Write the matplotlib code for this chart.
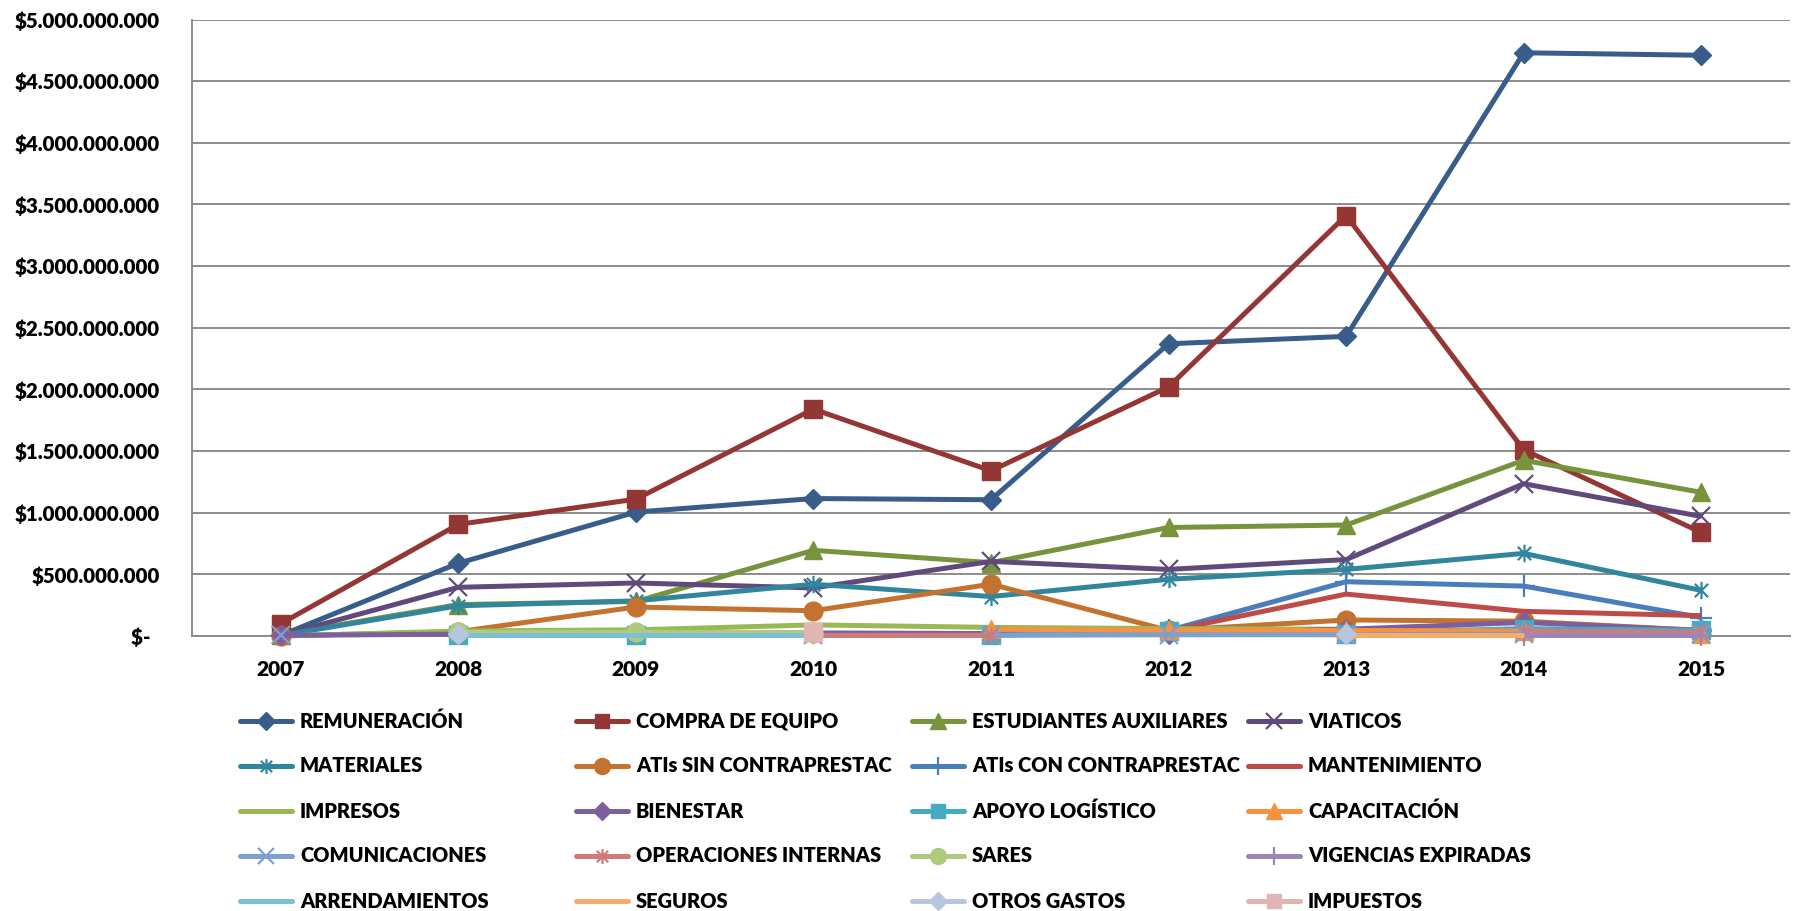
import numpy as np
import matplotlib
matplotlib.use('Agg')
import matplotlib.pyplot as plt
from matplotlib.lines import Line2D
from matplotlib.path import Path
from matplotlib.ticker import FuncFormatter, MultipleLocator

plt.rcParams['font.family'] = ['Lato', 'DejaVu Sans']
plt.rcParams['font.weight'] = 'heavy'

nan = np.nan
years = ['2007', '2008', '2009', '2010', '2011', '2012', '2013', '2014', '2015']

# valores en millones de pesos
remuneracion = [5, 590, 1005, 1115, 1105, 2370, 2430, 4730, 4710]
compra_equipo = [100, 905, 1110, 1840, 1340, 2020, 3410, 1510, 840]
estudiantes = [10, 255, 280, 695, 595, 880, 900, 1425, 1165]
viaticos = [5, 395, 430, 390, 605, 540, 620, 1235, 970]
materiales = [5, 245, 285, 420, 320, 460, 540, 670, 370]
atis_sin = [0, 35, 235, 205, 420, 45, 130, 120, 45]
atis_con = [nan, nan, nan, nan, nan, 45, 440, 405, 150]
mantenimiento = [nan, nan, nan, nan, nan, 40, 340, 200, 165]
impresos = [0, 40, 50, 90, 70, 60, 55, 45, 30]
bienestar = [5, 15, 20, 25, 20, 20, 55, 110, 45]
apoyo = [nan, 5, 5, nan, 5, 40, 20, 60, 45]
capacitacion = [nan, nan, nan, nan, 55, 45, 45, 40, 20]
comunicaciones = [5, nan, nan, 5, 5, 10, 10, 15, 20]
operaciones = [nan, nan, nan, 5, 5, nan, nan, 40, 30]
sares = [nan, 30, 30, 25, nan, nan, nan, nan, nan]
vigencias = [nan, nan, nan, nan, nan, nan, nan, 10, 10]
arrendamientos = [nan, 5, 5, 5, nan, nan, nan, nan, nan]
seguros = [nan, nan, nan, nan, nan, nan, 10, 10, nan]
otros_gastos = [nan, 20, nan, nan, nan, nan, 20, nan, nan]
impuestos = [nan, nan, nan, 30, nan, nan, nan, nan, nan]

names = ['REMUNERACIÓN', 'COMPRA DE EQUIPO', 'ESTUDIANTES AUXILIARES', 'VIATICOS',
         'MATERIALES', 'ATIs SIN CONTRAPRESTAC', 'ATIs CON CONTRAPRESTAC', 'MANTENIMIENTO',
         'IMPRESOS', 'BIENESTAR', 'APOYO LOGÍSTICO', 'CAPACITACIÓN',
         'COMUNICACIONES', 'OPERACIONES INTERNAS', 'SARES', 'VIGENCIAS EXPIRADAS',
         'ARRENDAMIENTOS', 'SEGUROS', 'OTROS GASTOS', 'IMPUESTOS']
series = [remuneracion, compra_equipo, estudiantes, viaticos, materiales, atis_sin,
          atis_con, mantenimiento, impresos, bienestar, apoyo, capacitacion,
          comunicaciones, operaciones, sares, vigencias, arrendamientos, seguros,
          otros_gastos, impuestos]

colors = ['#385D8A', '#943634', '#77933C', '#604A7B', '#31859C', '#C3732F',
          '#4A7EBB', '#BE4B48', '#98B954', '#7D5FA0', '#46AAC5', '#F69240',
          '#7F9FCF', '#CF7B79', '#B0CA7D', '#9B87B7', '#7BC0D5', '#F9AB6B',
          '#B7C5DF', '#E2B5B4']

# asterisco estilo Excel (X + linea vertical)
star = Path([(-1, -1), (1, 1), (-1, 1), (1, -1), (0, -1.3), (0, 1.3)],
            [Path.MOVETO, Path.LINETO, Path.MOVETO, Path.LINETO, Path.MOVETO, Path.LINETO])

# (marcador, tamaño, grosor de borde)
mk_cycle = [('D', 10.5, 1), ('s', 12.5, 1), ('^', 13.5, 1), ('x', 13.5, 1.6), (star, 12.5, 1.6),
            ('o', 13.5, 1), ('+', 16, 1.6), ('', 0, 0)]
styles = [mk_cycle[i] for i in range(8)] + [mk_cycle[7]] + \
         [mk_cycle[i] for i in range(7)] + [mk_cycle[7], mk_cycle[7]] + \
         [mk_cycle[0], mk_cycle[1]]

W, H = 1797, 911
fig = plt.figure(figsize=(W / 100, H / 100), dpi=100)
ax = fig.add_axes([192 / W, 1 - 636 / H, (1790 - 192) / W, (636 - 19.5) / H])

x = np.arange(len(years))
handles = []
for name, vals, col, (mk, ms, mew) in zip(names, series, colors, styles):
    ln, = ax.plot(x, np.array(vals, dtype=float) * 1e6, color=col, lw=3.6,
                  marker=mk if mk != '' else None, ms=ms, mfc=col, mec=col, mew=mew,
                  solid_joinstyle='round', solid_capstyle='butt', clip_on=False)
    handles.append(ln)

ax.set_xlim(-0.5, len(years) - 0.5)
ax.set_ylim(0, 5e9)
ax.yaxis.set_major_locator(MultipleLocator(5e8))


def pesos(v, pos):
    if abs(v) < 1:
        return '$-  '
    return '$' + f'{v:,.0f}'.replace(',', '.')


ax.yaxis.set_major_formatter(FuncFormatter(pesos))
ax.set_xticks(x, years)
ax.tick_params(length=0, labelsize=15)
ax.tick_params(axis='y', pad=23, labelsize=14.8)
ax.tick_params(axis='x', pad=17)
ax.grid(axis='y', color='#8C8C8C', lw=1.4)
ax.set_axisbelow(True)
for s in ['top', 'right']:
    ax.spines[s].set_visible(False)
for s in ['left', 'bottom']:
    ax.spines[s].set_color('#8C8C8C')
    ax.spines[s].set_linewidth(1.4)
    ax.spines[s].set_zorder(0.5)

# leyenda en 4 columnas, orden por filas como en Excel
x0, dx, y0, dy, hl = 240, 336, 721, 45, 52
for i, (ln, name) in enumerate(zip(handles, names)):
    r, c = divmod(i, 4)
    xp = x0 + c * dx
    yp = H - (y0 + r * dy)
    h = Line2D([xp / W, (xp + hl) / W], [yp / H, yp / H], transform=fig.transFigure,
               color=ln.get_color(), lw=3.6, solid_capstyle='round')
    fig.add_artist(h)
    if ln.get_marker() not in (None, 'None', ''):
        m = Line2D([(xp + hl / 2) / W], [yp / H], transform=fig.transFigure,
                   marker=ln.get_marker(), ms=ln.get_markersize() * 0.85,
                   mfc=ln.get_color(), mec=ln.get_color(), mew=ln.get_markeredgewidth(),
                   ls='none')
        fig.add_artist(m)
    fig.text((xp + hl + 8) / W, yp / H, name, fontsize=14.4,
             va='center', ha='left')

fig.savefig('out.png', dpi=100)
